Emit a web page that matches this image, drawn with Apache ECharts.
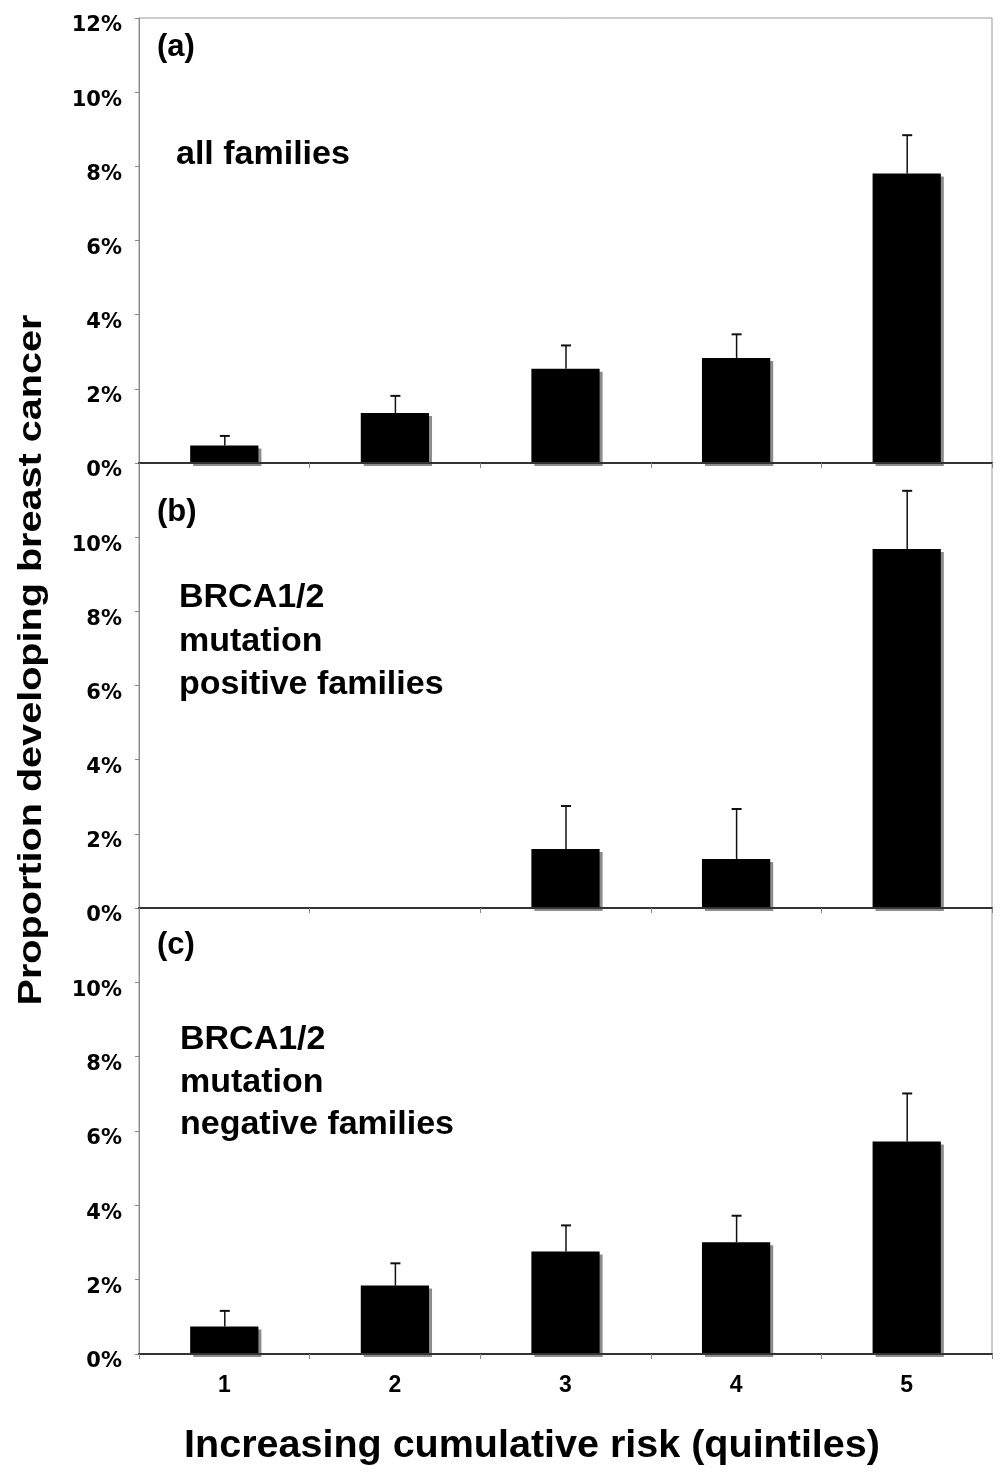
<!DOCTYPE html>
<html><head><meta charset="utf-8">
<script src="https://cdn.jsdelivr.net/npm/echarts@6/dist/echarts.min.js"></script>
<style>html,body{margin:0;padding:0;background:#fff}#c{width:1004px;height:1477px}</style>
</head><body><div id="c"></div>
<script>
const categories = ['1', '2', '3', '4', '5'];
const yTickLabels = ['0%', '2%', '4%', '6%', '8%', '10%', '12%'];
// (a) all families
const allFamilies = [0.47, 1.35, 2.54, 2.83, 7.81];
const allFamiliesUpper = [0.73, 1.81, 3.17, 3.47, 8.84];
// (b) BRCA1/2 mutation positive families
const positiveFamilies = [null, null, 1.59, 1.32, 9.68];
const positiveFamiliesUpper = [null, null, 2.75, 2.67, 11.25];
// (c) BRCA1/2 mutation negative families
const negativeFamilies = [0.74, 1.84, 2.76, 3.01, 5.72];
const negativeFamiliesUpper = [1.16, 2.44, 3.46, 3.72, 7.01];

const panelLetters = ['(a)', '(b)', '(c)'];
const panelTexts = [
  ['all families'],
  ['BRCA1/2', 'mutation', 'positive families'],
  ['BRCA1/2', 'mutation', 'negative families']
];
const yTitle = 'Proportion developing breast cancer';
const xTitle = 'Increasing cumulative risk (quintiles)';

const FONT = '"Liberation Sans", Arial, sans-serif';
const chart = echarts.init(document.getElementById('c'), null, {renderer: 'canvas'});

const gridTops = [18, 463, 908];
const gridH = [445, 445, 446];
const grids = gridTops.map((t, i) => ({
  left: 139, right: 12, top: t, height: gridH[i],
  show: true, borderColor: '#9a9a9a', borderWidth: 1, backgroundColor: 'transparent'
}));

const xAxes = [0, 1, 2].map(i => ({
  type: 'category', gridIndex: i, data: categories, z: 5,
  axisLine: {lineStyle: {color: '#333', width: 2}},
  axisTick: {show: true, length: 5, lineStyle: {color: '#888', width: 1}},
  axisLabel: {show: i === 2, margin: 20, fontFamily: FONT, fontWeight: 'bold', fontSize: 23, color: '#000'},
  splitLine: {show: false}
}));

const yAxes = [0, 1, 2].map(i => ({
  type: 'value', gridIndex: i, min: 0, max: 12, interval: 2,
  axisLine: {show: true, lineStyle: {color: '#888', width: 1}},
  axisTick: {show: true, length: 4, lineStyle: {color: '#888'}},
  splitLine: {show: false},
  axisLabel: {
    margin: 17, color: '#000', fontFamily: '"DejaVu Sans", sans-serif', fontWeight: 'bold', fontSize: 21,
    verticalAlign: 'top', lineHeight: 16,
    formatter: v => {
      const idx = Math.round(v / 2);
      if (i > 0 && idx === 6) return '';
      return yTickLabels[idx];
    }
  }
}));

function errRender(params, api) {
  const x = api.value(0), v = api.value(1), u = api.value(2);
  const p0 = api.coord([x, v]);
  const p1 = api.coord([x, u]);
  const cx = p0[0] + 0.5;
  return {
    type: 'group', children: [
      {type: 'line', shape: {x1: cx, y1: p0[1], x2: cx, y2: p1[1]}, style: {stroke: '#111', lineWidth: 1.5}},
      {type: 'line', shape: {x1: cx - 5, y1: p1[1], x2: cx + 5, y2: p1[1]}, style: {stroke: '#111', lineWidth: 2}}
    ]
  };
}

const barSets = [[allFamilies, allFamiliesUpper], [positiveFamilies, positiveFamiliesUpper], [negativeFamilies, negativeFamiliesUpper]];
const series = [];
barSets.forEach(([vals, ups], i) => {
  series.push({
    type: 'bar', xAxisIndex: i, yAxisIndex: i, barWidth: '40%',
    data: vals.map(v => v == null ? '-' : v),
    itemStyle: {color: '#000', shadowColor: '#8c8c8c', shadowOffsetX: 3, shadowOffsetY: 3, shadowBlur: 0},
    emphasis: {disabled: true}, silent: true, z: 2
  });
  series.push({
    type: 'custom', xAxisIndex: i, yAxisIndex: i, renderItem: errRender, z: 3, silent: true,
    encode: {x: 0, y: [1, 2]},
    data: vals.map((v, k) => [k, v, ups[k]]).filter(d => d[1] != null && d[2] != null)
  });
});

const graphics = [];
const letterY = [47, 512, 945];
panelLetters.forEach((t, i) => {
  graphics.push({type: 'text', x: 157, y: letterY[i], style: {text: t, fontFamily: FONT, fontWeight: 'bold', fontSize: 31, fill: '#000', align: 'left', verticalAlign: 'middle'}});
});
const textY = [[155], [598, 642, 685], [1040, 1083, 1125]];
const textX = [176, 179, 180];
panelTexts.forEach((lines, i) => {
  lines.forEach((t, k) => {
    graphics.push({type: 'text', x: textX[i], y: textY[i][k], style: {text: t, fontFamily: FONT, fontWeight: 'bold', fontSize: 34, fill: '#000', align: 'left', verticalAlign: 'middle'}});
  });
});
graphics.push({type: 'text', x: 32, y: 660, rotation: Math.PI / 2, scaleX: 1.2,
  style: {text: yTitle, fontFamily: FONT, fontWeight: 'bold', fontSize: 33, fill: '#000', align: 'center', verticalAlign: 'middle'}});
graphics.push({type: 'text', x: 532, y: 1446,
  style: {text: xTitle, fontFamily: FONT, fontWeight: 'bold', fontSize: 39.5, fill: '#000', align: 'center', verticalAlign: 'middle'}});

chart.setOption({
  animation: false,
  backgroundColor: '#fff',
  grid: grids, xAxis: xAxes, yAxis: yAxes, series: series, graphic: graphics
});
</script></body></html>
